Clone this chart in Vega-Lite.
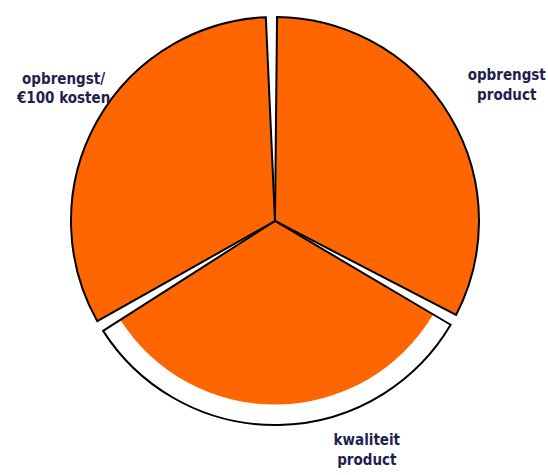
{
  "$schema": "https://vega.github.io/schema/vega-lite/v6.json",
  "width": 550,
  "height": 442,
  "autosize": "none",
  "padding": {"top": 0, "left": 0, "right": 0, "bottom": 33},
  "background": "white",
  "config": {"view": {"stroke": null}},
  "data": {
    "values": [
      {"aspect": "opbrengst product", "label": "opbrengst\nproduct", "share": 1, "score": 100, "idx": 1},
      {"aspect": "kwaliteit product", "label": "kwaliteit\nproduct", "share": 1, "score": 90, "idx": 2},
      {"aspect": "opbrengst/€100 kosten", "label": "opbrengst/\n€100 kosten", "share": 1, "score": 100, "idx": 3}
    ]
  },
  "transform": [
    {"stack": "share", "groupby": [], "sort": [{"field": "idx", "order": "ascending"}], "as": ["t0", "t1"]},
    {"calculate": "(datum.t0 + datum.t1) / 2", "as": "tmid"}
  ],
  "layer": [
    {
      "mark": {"type": "arc", "padAngle": 0.055, "fill": "#FF6600", "stroke": null},
      "encoding": {
        "theta": {"field": "t0", "type": "quantitative", "scale": {"domain": [0, 3], "range": [-0.0175, 6.2657]}},
        "theta2": {"field": "t1"},
        "radius": {"field": "score", "type": "quantitative", "scale": {"type": "linear", "zero": true, "domain": [0, 100], "range": [0, 204]}, "legend": null}
      }
    },
    {
      "mark": {"type": "arc", "padAngle": 0.055, "radius": 204, "fill": "white", "fillOpacity": 0, "stroke": "black", "strokeWidth": 2, "strokeJoin": "miter"},
      "encoding": {
        "theta": {"field": "t0", "type": "quantitative"},
        "theta2": {"field": "t1"}
      }
    },
    {
      "transform": [{"filter": "datum.idx == 1"}],
      "mark": {"type": "text", "radius": 268, "dx": 2, "dy": -8, "lineBreak": "\n", "font": "DejaVu Sans Condensed, sans-serif", "fontWeight": "bold", "fontSize": 15, "fill": "#1F1F4F", "align": "center", "baseline": "middle", "lineHeight": 20},
      "encoding": {"theta": {"field": "tmid", "type": "quantitative"}, "text": {"field": "label"}}
    },
    {
      "transform": [{"filter": "datum.idx == 3"}],
      "mark": {"type": "text", "radius": 252, "dx": 9, "dy": -20, "lineBreak": "\n", "font": "DejaVu Sans Condensed, sans-serif", "fontWeight": "bold", "fontSize": 15, "fill": "#1F1F4F", "align": "center", "baseline": "middle", "lineHeight": 19},
      "encoding": {"theta": {"field": "tmid", "type": "quantitative"}, "text": {"field": "label"}}
    },
    {
      "transform": [{"filter": "datum.idx == 2"}],
      "mark": {"type": "text", "radius": 219, "dx": 88, "lineBreak": "\n", "font": "DejaVu Sans Condensed, sans-serif", "fontWeight": "bold", "fontSize": 15, "fill": "#1F1F4F", "align": "center", "baseline": "middle", "lineHeight": 20},
      "encoding": {"theta": {"field": "tmid", "type": "quantitative"}, "text": {"field": "label"}}
    }
  ]
}
